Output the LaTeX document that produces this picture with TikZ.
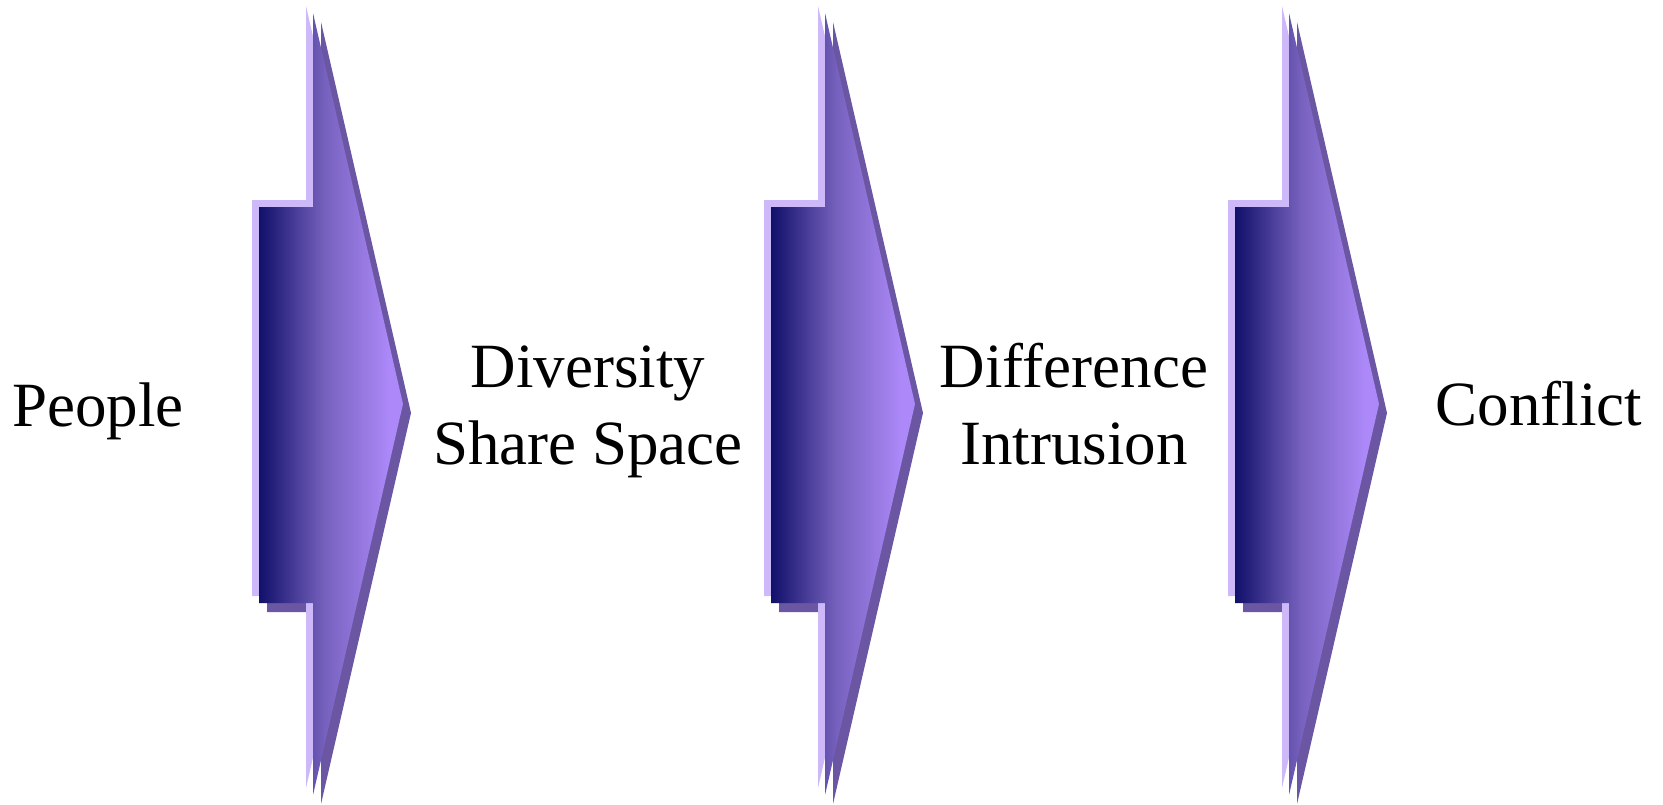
\documentclass[tikz,border=0pt]{standalone}
\usepackage{fontspec}
\setmainfont{Liberation Serif}
\definecolor{hlcol}{HTML}{CDB9FA}
\definecolor{shcol}{HTML}{6A56A2}
\definecolor{gdark}{HTML}{10106A}
\definecolor{gmid}{HTML}{7762BE}
\definecolor{glight}{HTML}{AC88F8}
\pgfdeclarehorizontalshading{chevgrad}{100bp}{color(0bp)=(gdark); color(25bp)=(gdark); color(48bp)=(gmid); color(70bp)=(glight); color(100bp)=(glight)}
\tikzset{
  chevhl/.style={fill=hlcol, draw=none},
  chevsh/.style={fill=shcol, draw=none},
  chevmain/.style={shading=chevgrad, draw=none},
  lbl/.style={font=\fontsize{63}{77}\selectfont, align=center, inner sep=0pt, text=black}
}
\begin{document}
\begin{tikzpicture}[x=1pt,y=-1pt]
\useasboundingbox (0,0) rectangle (1663,804);
\foreach \px/\nm in {259/a1,771/a2,1235/a3}{
  \begin{scope}[shift={(\px,0)}]
    \path[chevsh] (8,216) -- (62,216) -- (62,22) -- (152,413) -- (62,804) -- (62,612) -- (8,612) -- cycle;
    \path[chevhl] (-7,200) -- (47,200) -- (47,6) -- (137,397) -- (47,788) -- (47,596) -- (-7,596) -- cycle;
    \path[chevmain] (0,207) -- (54,207) -- (54,13) -- (144,404) -- (54,795) -- (54,603) -- (0,603) -- cycle;
  \end{scope}
}
\node[lbl, anchor=base] (people) at (98,426) {People};
\node[lbl, anchor=center] (diversity) at (588,412) {Diversity\\Share Space};
\node[lbl, anchor=center] (difference) at (1074,404) {Difference\\Intrusion};
\node[lbl, anchor=base] (conflict) at (1539,425) {Conflict};
\end{tikzpicture}
\end{document}
